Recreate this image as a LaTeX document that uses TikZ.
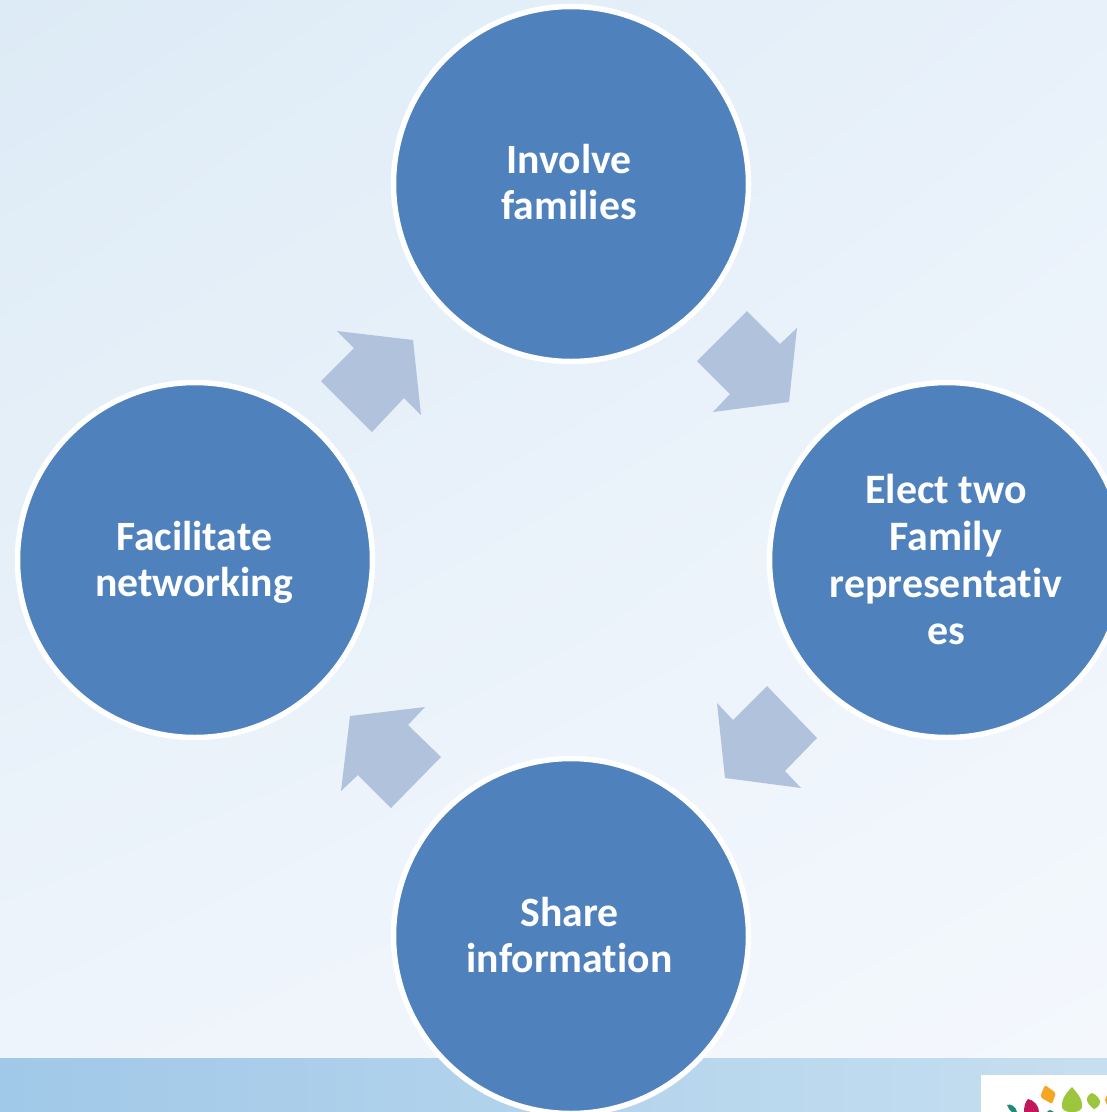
\documentclass[tikz,border=0pt]{standalone}
\usepackage{fontspec}
\usetikzlibrary{shadings}
\setmainfont[Ligatures=NoCommon]{Carlito}
\definecolor{circleblue}{HTML}{4F81BD}
\definecolor{arrowblue}{HTML}{B1C2DD}
\definecolor{bandl}{HTML}{A0C8E8}
\definecolor{bandr}{HTML}{C6DFF0}
\definecolor{bgul}{HTML}{DDEBF6}
\definecolor{bgur}{HTML}{E8F1FA}
\definecolor{bgll}{HTML}{EEF4FB}
\definecolor{bglr}{HTML}{F4F8FD}
\definecolor{logogreen}{HTML}{9CC63C}
\definecolor{logoorange}{HTML}{F5A623}
\definecolor{logopink}{HTML}{C2185B}
\definecolor{logoteal}{HTML}{1F8A78}
\tikzset{
  stage/.style={circle,fill=circleblue,draw=white,line width=5.5pt,outer sep=0pt,minimum size=355pt,inner sep=0pt},
  stagetext/.style={text=white,font=\fontsize{41.7}{46}\selectfont\bfseries,align=center,inner sep=0pt},
  stagetextwide/.style={text=white,font=\fontsize{41.9}{47}\selectfont\bfseries,align=center,inner sep=0pt},
  blockarrow/.style={fill=arrowblue,draw=none},
}
\begin{document}
\begin{tikzpicture}[x=1pt,y=-1pt]
\useasboundingbox (0,0) rectangle (1107,1112);
\clip (0,0) rectangle (1107,1112);
\shade[upper left=bgul,upper right=bgur,lower left=bgll,lower right=bglr] (0,0) rectangle (1107,1058);
\shade[left color=bandl,right color=bandr] (0,1058) rectangle (1107,1112);
% logo
\fill[white] (981,1075) rectangle (1107,1112);
\fill[logoorange,rounded corners=2pt] (1045,1085) -- (1056,1093) -- (1052,1104) -- (1040,1097) -- cycle;
\fill[logogreen] (1072,1087) .. controls (1078,1094) and (1083,1100) .. (1082,1107) .. controls (1081,1114) and (1063,1114) .. (1062,1107) .. controls (1061,1100) and (1066,1093) .. (1072,1087) -- cycle;
\fill[logogreen] (1092,1093) .. controls (1097,1095) and (1100,1099) .. (1100,1102) .. controls (1100,1105) and (1097,1108) .. (1094,1109) .. controls (1090,1106) and (1086,1102) .. (1087,1098) .. controls (1088,1095) and (1090,1094) .. (1092,1093) -- cycle;
\fill[logopink] (1028,1099) .. controls (1034,1100) and (1039,1106) .. (1039,1112) -- (1024,1112) .. controls (1024,1107) and (1025,1102) .. (1028,1099) -- cycle;
\fill[logoteal] (1007,1105) .. controls (1011,1103) and (1016,1107) .. (1017,1112) -- (1012,1112) .. controls (1010,1111) and (1008,1108) .. (1007,1105) -- cycle;
\fill[logoteal] (1047,1112) .. controls (1049,1109) and (1052,1110) .. (1054,1112) -- cycle;
\fill[logoorange] (1107,1095) -- (1105,1100) -- (1107,1105) -- cycle;
% circles
\node[stage] (involve) at (571,184) {};
\node[stage] (elect) at (947,560) {};
\node[stage] (share) at (571,936) {};
\node[stage] (network) at (195,560) {};
% labels
\node[stagetext] (involvetext) at (569,182) {Involve\\families};
\node[stagetextwide] (electtext) at (946,559) {Elect two\\Family\\representativ\\es};
\node[stagetext] (sharetext) at (569.5,935) {Share\\information};
\node[stagetext] (networktext) at (194,562) {Facilitate\\networking};
% arrows
\fill[blockarrow] (747,311) -- (780,344) -- (797,328) -- (789,402) -- (713,412) -- (730,394) -- (697,361) -- cycle;
\fill[blockarrow] (767,686) -- (817,738) -- (785,771) -- (801,788) -- (725,778) -- (717,703) -- (733,720) -- cycle;
\fill[blockarrow] (391,808) -- (441,757) -- (408,725) -- (425,707) -- (350,716) -- (341,791) -- (358,775) -- cycle;
\fill[blockarrow] (372,432) -- (321,381) -- (354,348) -- (337,331) -- (413,340) -- (421,415) -- (404,398) -- cycle;
\end{tikzpicture}
\end{document}
